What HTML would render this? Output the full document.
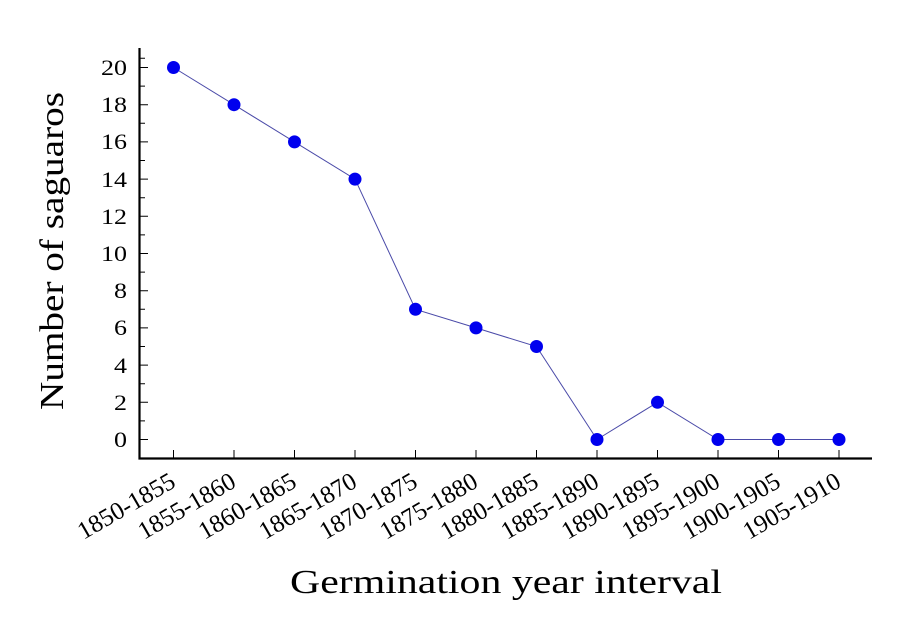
<!DOCTYPE html>
<html><head><style>html,body{margin:0;padding:0;background:#fff}svg{display:block}</style></head>
<body>
<svg width="900" height="620" viewBox="0 0 900 620" xmlns="http://www.w3.org/2000/svg" font-family="Liberation Serif, serif">
<rect width="900" height="620" fill="#fff"/>
<g stroke="#000" stroke-width="1">
<path d="M140 439.5h8M140 402.3h8M140 365.1h8M140 327.9h8M140 290.7h8M140 253.5h8M140 216.3h8M140 179.1h8M140 141.9h8M140 104.7h8M140 67.5h8"/>
<path d="M140 420.9h5M140 383.7h5M140 346.5h5M140 309.3h5M140 272.1h5M140 234.9h5M140 197.7h5M140 160.5h5M140 123.3h5M140 86.1h5M140 58.2h5"/>
<path d="M173.5 458v-8M234 458v-8M294.5 458v-8M355 458v-8M415.5 458v-8M476 458v-8M536.5 458v-8M597 458v-8M657.5 458v-8M718 458v-8M778.5 458v-8M839 458v-8"/>
</g>
<path d="M139.5 48V458.5H872" fill="none" stroke="#000" stroke-width="2.2"/>
<g font-size="22" text-anchor="end">
<text x="127" y="447" textLength="13" lengthAdjust="spacingAndGlyphs">0</text>
<text x="127" y="410" textLength="13" lengthAdjust="spacingAndGlyphs">2</text>
<text x="127" y="373" textLength="13" lengthAdjust="spacingAndGlyphs">4</text>
<text x="127" y="335" textLength="13" lengthAdjust="spacingAndGlyphs">6</text>
<text x="127" y="298" textLength="13" lengthAdjust="spacingAndGlyphs">8</text>
<text x="127" y="261" textLength="26" lengthAdjust="spacingAndGlyphs">10</text>
<text x="127" y="224" textLength="26" lengthAdjust="spacingAndGlyphs">12</text>
<text x="127" y="187" textLength="26" lengthAdjust="spacingAndGlyphs">14</text>
<text x="127" y="149" textLength="26" lengthAdjust="spacingAndGlyphs">16</text>
<text x="127" y="112" textLength="26" lengthAdjust="spacingAndGlyphs">18</text>
<text x="127" y="75" textLength="26" lengthAdjust="spacingAndGlyphs">20</text>
</g>
<polyline fill="none" stroke="#4a4aa8" stroke-width="1" points="173.5,67.5 234,104.7 294.5,141.9 355,179.1 415.5,309.3 476,327.9 536.5,346.5 597,439.5 657.5,402.3 718,439.5 778.5,439.5 839,439.5"/>
<g fill="#0000ee">
<circle cx="173.5" cy="67.5" r="6.5"/><circle cx="234" cy="104.7" r="6.5"/><circle cx="294.5" cy="141.9" r="6.5"/><circle cx="355" cy="179.1" r="6.5"/><circle cx="415.5" cy="309.3" r="6.5"/><circle cx="476" cy="327.9" r="6.5"/><circle cx="536.5" cy="346.5" r="6.5"/><circle cx="597" cy="439.5" r="6.5"/><circle cx="657.5" cy="402.3" r="6.5"/><circle cx="718" cy="439.5" r="6.5"/><circle cx="778.5" cy="439.5" r="6.5"/><circle cx="839" cy="439.5" r="6.5"/>
</g>
<g font-size="25" text-anchor="end">
<text transform="translate(177,486) rotate(-30)" textLength="108" lengthAdjust="spacingAndGlyphs">1850-1855</text>
<text transform="translate(237.5,486) rotate(-30)" textLength="108" lengthAdjust="spacingAndGlyphs">1855-1860</text>
<text transform="translate(298,486) rotate(-30)" textLength="108" lengthAdjust="spacingAndGlyphs">1860-1865</text>
<text transform="translate(358.5,486) rotate(-30)" textLength="108" lengthAdjust="spacingAndGlyphs">1865-1870</text>
<text transform="translate(419,486) rotate(-30)" textLength="108" lengthAdjust="spacingAndGlyphs">1870-1875</text>
<text transform="translate(479.5,486) rotate(-30)" textLength="108" lengthAdjust="spacingAndGlyphs">1875-1880</text>
<text transform="translate(540,486) rotate(-30)" textLength="108" lengthAdjust="spacingAndGlyphs">1880-1885</text>
<text transform="translate(600.5,486) rotate(-30)" textLength="108" lengthAdjust="spacingAndGlyphs">1885-1890</text>
<text transform="translate(661,486) rotate(-30)" textLength="108" lengthAdjust="spacingAndGlyphs">1890-1895</text>
<text transform="translate(721.5,486) rotate(-30)" textLength="108" lengthAdjust="spacingAndGlyphs">1895-1900</text>
<text transform="translate(782,486) rotate(-30)" textLength="108" lengthAdjust="spacingAndGlyphs">1900-1905</text>
<text transform="translate(842.5,486) rotate(-30)" textLength="108" lengthAdjust="spacingAndGlyphs">1905-1910</text>
</g>
<text x="290" y="593" font-size="34" textLength="432" lengthAdjust="spacingAndGlyphs">Germination year interval</text>
<text transform="translate(63,410) rotate(-90)" font-size="34" textLength="318" lengthAdjust="spacingAndGlyphs">Number of saguaros</text>
</svg>
</body></html>
